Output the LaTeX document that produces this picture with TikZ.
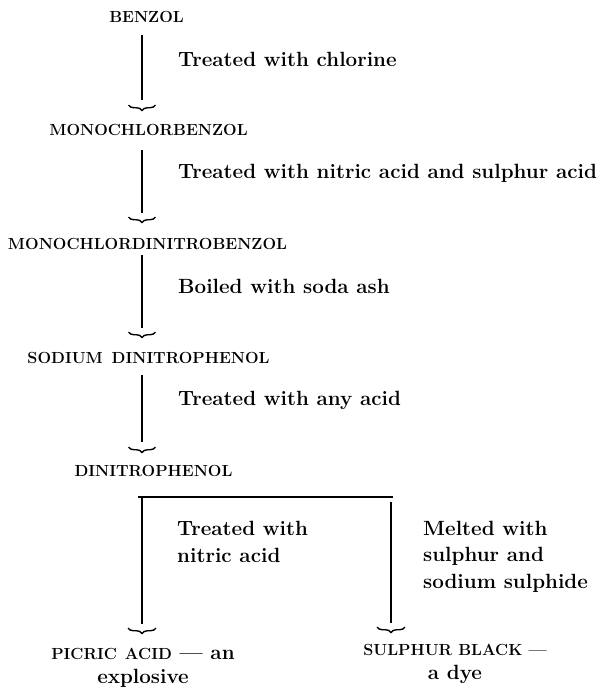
\documentclass[tikz,border=0pt]{standalone}
\usepackage{fontspec}
\usetikzlibrary{calc,decorations.pathreplacing}

\newcommand{\cpdfont}{\fontsize{16.1}{18}\selectfont\bfseries}

\tikzset{
    compound/.style={
        font=\cpdfont,
        inner sep=0pt,
        anchor=base
    },
    treatment/.style={
        font=\fontsize{20.6}{26.5}\selectfont\bfseries,
        inner sep=0pt,
        anchor=base west,
        align=left
    },
    product/.style={
        font=\fontsize{20.6}{24}\selectfont\bfseries,
        inner sep=0pt,
        anchor=base,
        align=center
    },
    flow/.style={line width=1.6pt},
    bracetip/.style={
        decorate,
        decoration={
            brace,
            mirror,
            amplitude=5.5pt
        },
        line width=1.4pt
    }
}

\begin{document}
\begin{tikzpicture}[x=1pt, y=-1pt]

    \useasboundingbox (0,0) rectangle (613,689);

    % compounds
    \node[compound] (benzol) at (146.5,22) {BENZOL};
    \node[compound] (monochlorbenzol) at (148.5,135) {MONOCHLORBENZOL};
    \node[compound] (monochlordinitrobenzol) at (147.5,249) {MONOCHLORDINITROBENZOL};
    \node[compound] (sodium_dinitrophenol) at (148.5,363) {SODIUM\hspace{0.55em}DINITROPHENOL};
    \node[compound] (dinitrophenol) at (153.5,476) {DINITROPHENOL};

    % benzol -> monochlorbenzol
    \coordinate (s_1) at (142,35);
    \coordinate (e_1) at (142,100);
    \draw[flow]
        (s_1) --
        (e_1);
    \draw[bracetip]
        ($(e_1)+(-13.5,5)$) --
        ($(e_1)+(13.5,5)$);
    \node[treatment] (chlorine) at (178,66) {Treated with chlorine};

    % monochlorbenzol -> monochlordinitrobenzol
    \coordinate (s_2) at (142,150);
    \coordinate (e_2) at (142,213);
    \draw[flow]
        (s_2) --
        (e_2);
    \draw[bracetip]
        ($(e_2)+(-13.5,4)$) --
        ($(e_2)+(13.5,4)$);
    \node[treatment] (nitric_sulphur) at (178,178) {Treated with nitric acid and sulphur acid};

    % monochlordinitrobenzol -> sodium dinitrophenol
    \coordinate (s_3) at (142,255);
    \coordinate (e_3) at (142,328);
    \draw[flow]
        (s_3) --
        (e_3);
    \draw[bracetip]
        ($(e_3)+(-13.5,4)$) --
        ($(e_3)+(13.5,4)$);
    \node[treatment] (soda_ash) at (178,293) {Boiled with soda ash};

    % sodium dinitrophenol -> dinitrophenol
    \coordinate (s_4) at (142,375);
    \coordinate (e_4) at (142,442);
    \draw[flow]
        (s_4) --
        (e_4);
    \draw[bracetip]
        ($(e_4)+(-13.5,5)$) --
        ($(e_4)+(13.5,5)$);
    \node[treatment] (any_acid) at (178,405) {Treated with any acid};

    % split
    \coordinate (bar_l) at (138,497);
    \coordinate (bar_r) at (393,497);
    \draw[line width=1.2pt]
        (bar_l) --
        (bar_r);

    % dinitrophenol -> picric acid
    \coordinate (s_5) at (142,497);
    \coordinate (e_5) at (142,624);
    \draw[flow]
        (s_5) --
        (e_5);
    \draw[bracetip]
        ($(e_5)+(-14,4)$) --
        ($(e_5)+(14,4)$);
    \node[treatment] (nitric) at (177,562) {Treated with\\nitric acid};
    \node[product] (picric) at (143,683) {{\cpdfont PICRIC\hspace{0.5em}ACID} — an\\explosive};

    % dinitrophenol -> sulphur black
    \coordinate (s_6) at (391,502);
    \coordinate (e_6) at (391,623);
    \draw[flow]
        (s_6) --
        (e_6);
    \draw[bracetip]
        ($(e_6)+(-14,4)$) --
        ($(e_6)+(14,4)$);
    \node[treatment] (sulphide) at (423,588) {Melted with\\sulphur and\\sodium sulphide};
    \node[product] (sulphur_black) at (455,679) {{\cpdfont SULPHUR BLACK —}\\a dye};

\end{tikzpicture}
\end{document}
